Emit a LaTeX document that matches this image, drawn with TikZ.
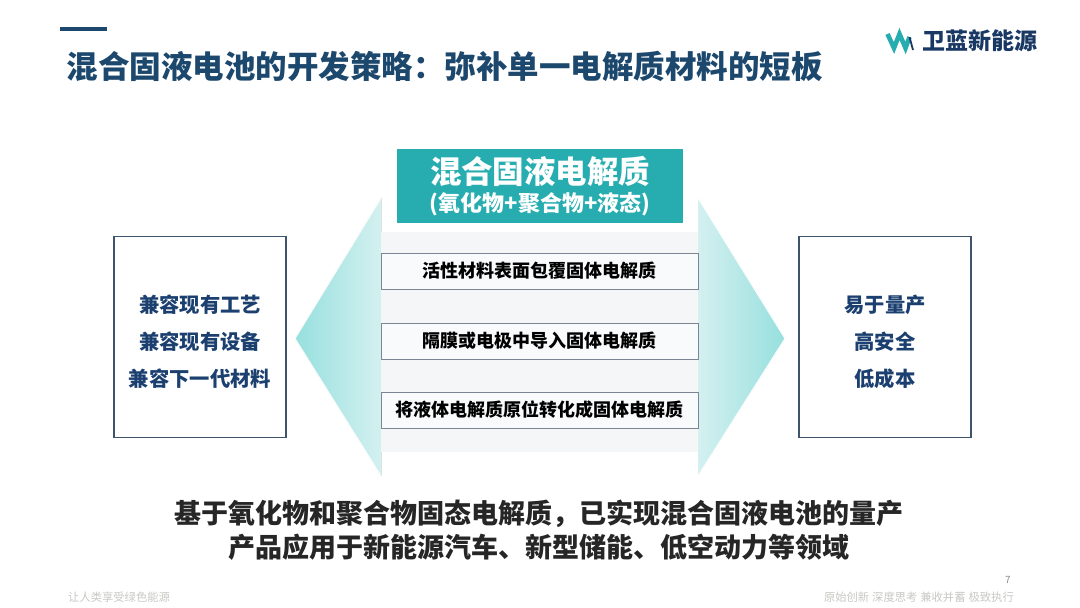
\documentclass[tikz,border=0pt]{standalone}
\usepackage{fontspec}
\setmainfont{Noto Sans CJK SC}
\setsansfont{Liberation Sans}
\definecolor{TitleBlue}{RGB}{29,72,110}
\definecolor{BoxBlue}{RGB}{62,84,106}
\definecolor{SideBlue}{RGB}{27,64,112}
\definecolor{LogoBlue}{RGB}{26,56,100}
\definecolor{HeadTeal}{RGB}{39,173,176}
\definecolor{TipTeal}{RGB}{150,224,222}
\definecolor{PaleTeal}{RGB}{222,244,244}
\definecolor{EdgeTeal}{RGB}{212,240,240}
\definecolor{BandGrey}{RGB}{244,246,247}
\definecolor{RowFill}{RGB}{249,250,252}
\definecolor{RowLine}{RGB}{125,133,148}
\definecolor{BodyGrey}{RGB}{38,38,38}
\definecolor{FootGrey}{RGB}{200,200,196}
\newcommand{\fsz}[1]{\fontsize{#1}{#1}\selectfont}

\begin{document}
\begin{tikzpicture}[x=1pt, y=-1pt, every node/.style={align=center, inner sep=0pt}]
\tikzset{
  sidebox/.style={draw=BoxBlue, line width=1.4pt, fill=white, minimum width=172pt, minimum height=201pt},
  sidetext/.style={text=SideBlue, font=\fsz{20.3}\bfseries},
  rowbox/.style={draw=RowLine, line width=0.9pt, fill=RowFill, minimum width=317pt, minimum height=36pt, font=\fsz{18}\bfseries, text=black},
  bodytext/.style={text=BodyGrey, font=\fsz{27}\bfseries},
  foottext/.style={text=FootGrey, font=\fsz{11.3}}
}
  \useasboundingbox (0,0) rectangle (1080,608);
  \fill[white] (0,0) rectangle (1080,608);
  % header
  \fill[TitleBlue] (60,27) rectangle (107,31);
  \node[anchor=west, text=TitleBlue, font=\fsz{31.5}\bfseries] (title) at (66.5,66)
    {混合固液电池的开发策略\symbol{"FF1A}弥补单一电解质材料的短板};
  % logo
  \draw[HeadTeal, line width=4.6pt] (887.5,34) -- (894,48) -- (899.5,34) -- (905.5,48) -- (909.5,37);
  \draw[LogoBlue, line width=1.8pt] (909.5,37) -- (913,50);
  \node[anchor=west, text=LogoBlue, font=\fsz{23}\bfseries] (logo) at (922,41) {卫蓝新能源};
  % arrows either side of the centre column
  \fill[left color=TipTeal, middle color=PaleTeal, right color=EdgeTeal] (295,338.5) -- (381,198) -- (381,476) -- cycle;
  \fill[left color=EdgeTeal, middle color=PaleTeal, right color=TipTeal] (785,338.5) -- (698,198) -- (698,476) -- cycle;
  \draw[white, line width=1pt] (381,198) -- (295,338.5) -- (381,476);
  \draw[white, line width=1pt] (698,198) -- (785,338.5) -- (698,476);
  \fill[BandGrey] (381,232) rectangle (698,452);
  % centre column
  \node[fill=HeadTeal, text=white, minimum width=286pt, minimum height=74pt] (head) at (540,186) {};
  \node[text=white, font=\fsz{31.4}\bfseries] (headtop) at (540,171.5) {混合固液电解质};
  \node[text=white, font=\fsz{22}\bfseries] (headsub) at (540,204) {(氧化物+聚合物+液态)};
  \node[rowbox] (coat) at (539.5,271) {活性材料表面包覆固体电解质};
  \node[rowbox] (sep) at (539.5,341) {隔膜或电极中导入固体电解质};
  \node[rowbox] (insitu) at (539.5,410) {将液体电解质原位转化成固体电解质};
  % side boxes
  \node[sidebox] (left) at (200,337) {};
  \node[sidebox] (right) at (885,337) {};
  \node[sidetext] (l1) at (200,305) {兼容现有工艺};
  \node[sidetext] (l2) at (200,342) {兼容现有设备};
  \node[sidetext] (l3) at (200,379) {兼容下一代材料};
  \node[sidetext] (r1) at (885,305) {易于量产};
  \node[sidetext] (r2) at (885,342) {高安全};
  \node[sidetext] (r3) at (885,379) {低成本};
  % summary
  \node[bodytext] (sum1) at (539,514) {基于氧化物和聚合物固态电解质\symbol{"FF0C}已实现混合固液电池的量产};
  \node[bodytext] (sum2) at (539,547) {产品应用于新能源汽车、新型储能、低空动力等领域};
  % footer
  \node[foottext, anchor=west] (footl) at (68,597) {让人类享受绿色能源};
  \node[foottext, anchor=east] (footr) at (1014,597) {原始创新\hspace{3pt}深度思考\hspace{3pt}兼收并蓄\hspace{3pt}极致执行};
  \node[text=FootGrey!70!black, font=\fsz{10}] (page) at (1008,580) {7};
\end{tikzpicture}
\end{document}
